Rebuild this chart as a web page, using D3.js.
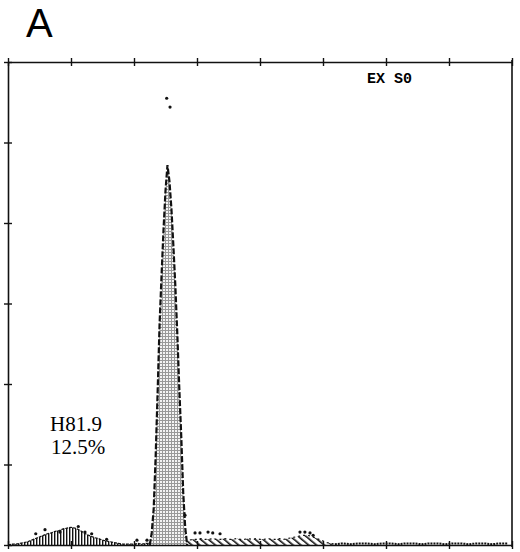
<!DOCTYPE html>
<html lang="en">
<head>
    <meta charset="UTF-8">
    <script src="https://cdnjs.cloudflare.com/ajax/libs/d3/7.9.0/d3.min.js"></script>
    <title>Histogram A</title>
    <style>
        body {
            margin: 0;
            background-color: white;
        }

        svg {
            display: block;
        }
    </style>
</head>
<body>
    <div id="chart"></div>
    <script>
        const width = 520;
        const height = 552;

        // Axis ticks (channels on x, counts on y)
        const xTicks = [0, 32, 64, 96, 128, 160, 192, 224, 256];
        const yTicks = [0, 100, 200, 300, 400, 500, 600];

        // Left bump (vertical hatching)
        const bumpChannels = [0, 2, 4, 6, 8, 10, 12, 14, 16, 18, 20, 22, 24, 26, 28, 30, 32, 34, 36, 38,
            40, 42, 44, 46, 48, 50, 52, 54, 56, 58, 60, 62, 64, 66, 68, 70, 72];
        const bumpCounts = [0, 1, 1, 2, 3, 4, 6, 8, 10, 12, 14, 15, 17, 18, 20, 21, 22, 21, 19, 16,
            13, 11, 9, 8, 6, 5, 4, 3, 2, 1, 1, 1, 1, 2, 1, 2, 2];

        // Main peak (stippled)
        const peakChannels = [72, 73, 74, 75, 76, 77, 78, 79, 80, 81, 82, 83, 84, 85, 86, 87, 88, 89, 90, 91];
        const peakCounts = [0, 15, 45, 110, 190, 275, 335, 392, 440, 472, 452, 418, 372, 322, 262, 195, 135, 65, 22, 0];

        // Region right of the peak (diagonal hatching)
        const midChannels = [90, 92, 94, 96, 98, 100, 102, 104, 106, 108, 110, 112, 114, 116, 118, 120,
            122, 124, 126, 128, 130, 132, 134, 136, 138, 140, 142, 144, 146, 148, 150, 152, 154, 156,
            158, 160, 162, 164, 166];
        const midCounts = [4, 6, 7, 7, 8, 7, 7, 8, 7, 7, 8, 7, 7, 8, 7, 7,
            8, 7, 8, 7, 7, 8, 7, 7, 8, 7, 8, 9, 10, 11, 12, 12, 11, 9,
            7, 5, 3, 2, 1];

        // Flat tail
        const tailChannels = [166, 170, 174, 178, 182, 186, 190, 194, 198, 202, 206, 210, 214, 218,
            222, 226, 230, 234, 238, 242, 246, 250, 254];
        const tailCounts = [1, 2, 1, 2, 2, 1, 2, 2, 1, 2, 2, 1, 2, 2,
            1, 2, 2, 1, 2, 2, 1, 2, 2];

        // Overlay dots
        const dotChannels = [14.1, 18.8, 26.4, 35.7, 39.1, 42.5, 50.1, 65.5, 70.6, 89.9, 95, 97.5,
            101.6, 104, 107.7, 148.3, 150.8, 153.4, 155, 80.6, 82.3];
        const dotCounts = [14, 19, 16, 23, 16, 14, 7, 6, 6, 37, 15, 15,
            16, 15, 14, 16, 16, 15, 12, 555, 544];

        const svg = d3.select('#chart')
            .append('svg')
            .attr('width', width)
            .attr('height', height);

        const x = d3.scaleLinear().domain([0, 256]).range([8, 512]);
        const y = d3.scaleLinear().domain([0, 600]).range([545, 62]);

        // Fill patterns
        const defs = svg.append('defs');

        const stipple = defs.append('pattern')
            .attr('id', 'stipple')
            .attr('patternUnits', 'userSpaceOnUse')
            .attr('width', 3).attr('height', 3);
        stipple.append('rect').attr('width', 3).attr('height', 3).attr('fill', '#f4f4f4');
        stipple.append('rect').attr('width', 3).attr('height', 1).attr('fill', '#999');
        stipple.append('rect').attr('width', 1).attr('height', 3).attr('fill', '#999');

        const vHatch = defs.append('pattern')
            .attr('id', 'vhatch')
            .attr('patternUnits', 'userSpaceOnUse')
            .attr('width', 3).attr('height', 4);
        vHatch.append('rect').attr('width', 1.4).attr('height', 4).attr('fill', '#111');

        const dHatch = defs.append('pattern')
            .attr('id', 'dhatch')
            .attr('patternUnits', 'userSpaceOnUse')
            .attr('width', 5).attr('height', 5)
            .attr('patternTransform', 'rotate(-50)');
        dHatch.append('rect').attr('width', 1.6).attr('height', 5).attr('fill', '#111');

        const zip = (cs, vs) => cs.map((c, i) => [c, vs[i]]);

        const area = d3.area()
            .x(d => x(d[0]))
            .y0(y(0))
            .y1(d => y(d[1]));

        const line = d3.line()
            .x(d => x(d[0]))
            .y(d => y(d[1]));

        // Left bump
        svg.append('path')
            .datum(zip(bumpChannels, bumpCounts))
            .attr('d', area)
            .attr('fill', 'url(#vhatch)');
        svg.append('path')
            .datum(zip(bumpChannels, bumpCounts))
            .attr('d', line)
            .attr('fill', 'none')
            .attr('stroke', '#111')
            .attr('stroke-width', 1.2)
            .attr('stroke-dasharray', '3,1');

        // Hatched region and tail
        svg.append('path')
            .datum(zip(midChannels, midCounts))
            .attr('d', area)
            .attr('fill', 'url(#dhatch)');
        svg.append('path')
            .datum(zip(midChannels, midCounts))
            .attr('d', line)
            .attr('fill', 'none')
            .attr('stroke', '#111')
            .attr('stroke-width', 1.2)
            .attr('stroke-dasharray', '2,3');
        svg.append('path')
            .datum(zip(tailChannels, tailCounts))
            .attr('d', line)
            .attr('fill', 'none')
            .attr('stroke', '#111')
            .attr('stroke-width', 2)
            .attr('stroke-dasharray', '2,1');

        // Peak with dashed outline
        svg.append('path')
            .datum(zip(peakChannels, peakCounts))
            .attr('d', area)
            .attr('fill', 'url(#stipple)');
        svg.append('path')
            .datum(zip(peakChannels, peakCounts))
            .attr('d', line)
            .attr('fill', 'none')
            .attr('stroke', '#111')
            .attr('stroke-width', 2.2)
            .attr('stroke-dasharray', '6,2');

        // Dots
        svg.selectAll('.dot')
            .data(zip(dotChannels, dotCounts))
            .enter()
            .append('circle')
            .attr('class', 'dot')
            .attr('cx', d => x(d[0]))
            .attr('cy', d => y(d[1]))
            .attr('r', 1.6)
            .attr('fill', '#111');

        // Frame and axes (ticks cross the line)
        const styleAxis = (g, a1, a2) => {
            g.select('.domain').attr('stroke', '#111').attr('stroke-width', 1.6);
            g.selectAll('.tick line').attr('stroke', '#111').attr('stroke-width', 1.4).attr(a1, a2);
            g.selectAll('.tick text').remove();
        };

        svg.append('g')
            .attr('transform', `translate(0,${y(600)})`)
            .call(d3.axisTop(x).tickValues(xTicks).tickSize(4).tickSizeOuter(0))
            .call(g => styleAxis(g, 'y1', 4));

        svg.append('g')
            .attr('transform', `translate(0,${y(0)})`)
            .call(d3.axisBottom(x).tickValues(xTicks).tickSize(4).tickSizeOuter(0))
            .call(g => styleAxis(g, 'y1', -4));

        svg.append('g')
            .attr('transform', `translate(${x(0)},0)`)
            .call(d3.axisLeft(y).tickValues(yTicks).tickSize(4).tickSizeOuter(0))
            .call(g => styleAxis(g, 'x1', 4));

        svg.append('line')
            .attr('x1', x(256)).attr('x2', x(256))
            .attr('y1', y(600) - 2).attr('y2', y(0) + 2)
            .attr('stroke', '#111')
            .attr('stroke-width', 1.6);

        // Texts
        svg.append('text')
            .attr('x', 26).attr('y', 37)
            .attr('font-family', 'Liberation Sans, Arial, sans-serif')
            .attr('font-size', 40)
            .text('A');

        svg.append('text')
            .attr('x', 367).attr('y', 83)
            .attr('font-family', 'Liberation Mono, Courier New, monospace')
            .attr('font-weight', 'bold')
            .attr('font-size', 15)
            .text('EX S0');

        svg.append('text')
            .attr('x', 50).attr('y', 431)
            .attr('font-family', 'Liberation Serif, Times New Roman, serif')
            .attr('font-size', 21)
            .text('H81.9');

        svg.append('text')
            .attr('x', 51).attr('y', 454)
            .attr('font-family', 'Liberation Serif, Times New Roman, serif')
            .attr('font-size', 21)
            .text('12.5%');
    </script>
</body>
</html>
